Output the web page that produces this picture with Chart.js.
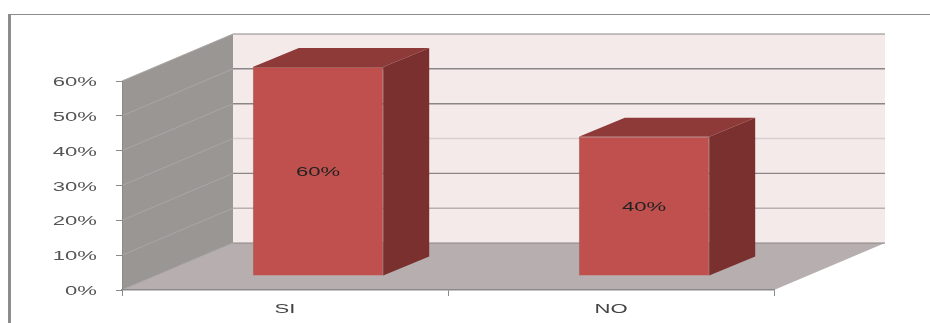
<!DOCTYPE html>
<html>
<head>
<meta charset="utf-8">
<style>
  body { margin: 0; background: #fff; }
  canvas { display: block; }
</style>
</head>
<body>
<canvas id="myChart" width="930" height="323"></canvas>
<script src="https://cdn.jsdelivr.net/npm/chart.js@4/dist/chart.umd.min.js"></script>
<script>
var categories = ['SI', 'NO'];
var serie = [60, 40];
var tickLabels = ['0%', '10%', '20%', '30%', '40%', '50%', '60%'];

// depth of the fake 3d box
var wallDx = 111, wallDy = 47;   // back wall against front plane
var barDx = 33, barDy = 14;      // where the bar stands on the floor
var boxDx = 46, boxDy = 19;      // depth of the bar itself
var stretch = 1.7;               // the labels in the picture are wide

// the back wall lines are not all the same in the picture
var lineColor = { 0: '#8a8686', 10: '#9a9494', 20: '#8a8686', 30: '#d8d0d0', 40: '#8a8686', 50: '#8a8686', 60: '#8a8686' };
var lineWidth = { 0: 1, 10: 1, 20: 1.2, 30: 1.5, 40: 1.5, 50: 1.5, 60: 1 };

function poly(ctx, pts, fill) {
  ctx.beginPath();
  ctx.moveTo(pts[0][0], pts[0][1]);
  for (var i = 1; i < pts.length; i++) ctx.lineTo(pts[i][0], pts[i][1]);
  ctx.closePath();
  ctx.fillStyle = fill;
  ctx.fill();
}

function wideText(ctx, txt, x, y, align, color) {
  ctx.save();
  ctx.translate(x, y);
  ctx.scale(stretch, 1);
  ctx.font = '13px "Liberation Sans"';
  ctx.textAlign = align;
  ctx.textBaseline = 'middle';
  ctx.fillStyle = color;
  ctx.fillText(txt, 0, 0);
  ctx.restore();
}

var box3d = {
  id: 'box3d',
  beforeDraw: function(chart) {
    var ctx = chart.ctx, a = chart.chartArea, ys = chart.scales.y;
    var l = a.left, r = a.right, t = a.top, b = a.bottom;

    // outer frame
    ctx.fillStyle = '#8c8c8c';
    ctx.fillRect(8, 14, 922, 1);
    ctx.fillRect(8, 14, 3, 309);

    // back wall, side wall, floor
    poly(ctx, [[l + wallDx, t - wallDy], [r + wallDx, t - wallDy], [r + wallDx, b - wallDy], [l + wallDx, b - wallDy]], '#f5eaea');
    poly(ctx, [[l, t], [l + wallDx, t - wallDy], [l + wallDx, b - wallDy], [l, b]], '#9a9694');
    poly(ctx, [[l, b], [r, b], [r + wallDx, b - wallDy], [l + wallDx, b - wallDy]], '#b7afaf');

    // grid lines go along the side wall and then the back wall
    ys.ticks.forEach(function(tick) {
      var y = ys.getPixelForValue(tick.value);
      ctx.strokeStyle = '#aaa6a5';
      ctx.lineWidth = 1;
      ctx.beginPath();
      ctx.moveTo(l, y);
      ctx.lineTo(l + wallDx, y - wallDy);
      ctx.stroke();
      ctx.strokeStyle = lineColor[tick.value];
      ctx.lineWidth = lineWidth[tick.value];
      ctx.beginPath();
      ctx.moveTo(l + wallDx, y - wallDy);
      ctx.lineTo(r + wallDx, y - wallDy);
      ctx.stroke();
    });
  },
  beforeDatasetsDraw: function(chart) {
    var ctx = chart.ctx;
    chart.getDatasetMeta(0).data.forEach(function(el) {
      var x0 = el.x - el.width / 2 + barDx, x1 = el.x + el.width / 2 + barDx;
      var top = el.y - barDy, bot = el.base - barDy;
      poly(ctx, [[x0, top], [x1, top], [x1 + boxDx, top - boxDy], [x0 + boxDx, top - boxDy]], '#8e3a38');
      poly(ctx, [[x1, top], [x1 + boxDx, top - boxDy], [x1 + boxDx, bot - boxDy], [x1, bot]], '#7a302e');
    });
    ctx.save();
    ctx.translate(barDx, -barDy);
  },
  afterDatasetsDraw: function(chart) {
    var ctx = chart.ctx;
    ctx.restore();

    chart.getDatasetMeta(0).data.forEach(function(el, i) {
      wideText(ctx, serie[i] + '%', el.x + barDx, (el.y + el.base) / 2 - barDy + 1.5, 'center', '#222');
    });

    var ys = chart.scales.y, xs = chart.scales.x;
    ys.ticks.forEach(function(tick, i) {
      wideText(ctx, tick.label, 97, ys.getPixelForTick(i) + 1.5, 'right', '#555');
    });
    xs.ticks.forEach(function(tick, i) {
      wideText(ctx, tick.label, xs.getPixelForTick(i), 309, 'center', '#444');
    });
  }
};

var chart = new Chart(document.getElementById('myChart').getContext('2d'), {
  type: 'bar',
  plugins: [box3d],
  data: {
    labels: categories,
    datasets: [{
      data: serie,
      backgroundColor: '#c0504d',
      borderColor: '#a5605d',
      borderWidth: 1,
      barPercentage: 0.8,
      categoryPercentage: 0.5,
      clip: false
    }]
  },
  options: {
    responsive: false,
    animation: false,
    layout: { padding: { top: 81, right: 156 } },
    plugins: { legend: { display: false }, tooltip: { enabled: false } },
    scales: {
      x: {
        ticks: { display: false },
        grid: { drawOnChartArea: false, tickLength: 6, color: '#8a8a8a' },
        border: { color: '#8a8a8a', width: 1.5 },
        afterFit: function(s) { s.height = 33; }
      },
      y: {
        min: 0,
        max: 60,
        ticks: {
          stepSize: 10,
          display: false,
          callback: function(v, i) { return tickLabels[i]; }
        },
        grid: { drawOnChartArea: false, tickLength: 6, color: '#8a8a8a' },
        border: { color: '#8a8a8a', width: 1 },
        afterFit: function(s) { s.width = 122; }
      }
    }
  }
});
</script>
</body>
</html>
